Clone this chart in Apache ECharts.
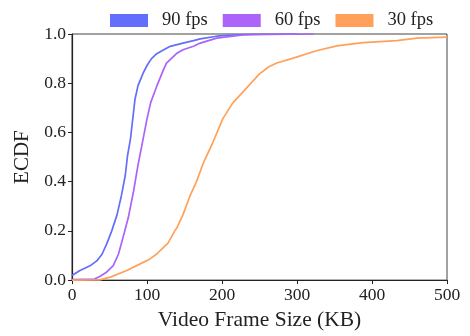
<!DOCTYPE html>
<html>
<head>
<meta charset="utf-8">
<script src="https://cdn.jsdelivr.net/npm/echarts@6/dist/echarts.min.js"></script>
<style>html,body{margin:0;padding:0;background:#fff}#c{width:470px;height:336px}</style>
</head>
<body>
<div id="c"></div>
<script>
const seriesNames = ['90 fps', '60 fps', '30 fps'];
const seriesColors = ['#636efa', '#ab63fa', '#ffa15a'];
const xTicks = [0, 100, 200, 300, 400, 500];
const yTicks = [0, 0.2, 0.4, 0.6, 0.8, 1.0];

const fps90X = [0,10,24,33,40,46,53,60,66,71,74,78,81,84,88,95,100,106,113,126,131,148,162,171,193,215,240,300];
const fps90Y = [0.019,0.038,0.058,0.078,0.105,0.145,0.2,0.265,0.345,0.425,0.505,0.575,0.655,0.735,0.79,0.842,0.872,0.9,0.92,0.942,0.95,0.963,0.973,0.98,0.991,0.996,0.999,1.0];

const fps60X = [0,30,37,46,55,62,68,75,82,88,94,100,105,113,122,126,140,148,162,171,193,228,260,322];
const fps60Y = [0.002,0.004,0.015,0.032,0.059,0.106,0.173,0.253,0.36,0.467,0.561,0.655,0.722,0.788,0.855,0.882,0.922,0.936,0.95,0.963,0.983,0.996,0.998,1.0];

const fps30X = [0,37,51,73,95,104,113,122,128,137,140,148,157,166,175,188,201,214,235,250,262,273,295,326,353,388,433,460,500];
const fps30Y = [0,0.001,0.012,0.039,0.072,0.086,0.106,0.133,0.15,0.2,0.213,0.266,0.34,0.4,0.475,0.561,0.655,0.718,0.788,0.838,0.866,0.882,0.902,0.932,0.952,0.965,0.973,0.983,0.987];

const xs = [fps90X, fps60X, fps30X];
const ys = [fps90Y, fps60Y, fps30Y];
const FONT = 'Liberation Serif';

const chart = echarts.init(document.getElementById('c'), null, {renderer: 'canvas'});
chart.setOption({
  animation: false,
  backgroundColor: '#fff',
  textStyle: {fontFamily: FONT},
  legend: {
    left: 105, top: 6,
    itemWidth: 38, itemHeight: 13, itemGap: 15,
    icon: 'rect',
    data: seriesNames,
    textStyle: {fontFamily: FONT, fontSize: 18.5, color: '#222', padding: [0, 0, 0, 9]}
  },
  grid: {left: 72, right: 23, top: 34, bottom: 53, show: true, borderColor: '#444', borderWidth: 1, containLabel: false},
  xAxis: {
    type: 'value', min: xTicks[0], max: xTicks[xTicks.length-1], interval: 100,
    name: 'Video Frame Size (KB)', nameLocation: 'middle', nameGap: 28,
    nameTextStyle: {fontFamily: FONT, fontSize: 21.5, color: '#222'},
    axisLine: {show: true, lineStyle: {color: '#222', width: 1.2}},
    axisTick: {show: true, inside: false, length: 4, lineStyle: {color: '#222'}},
    axisLabel: {fontFamily: FONT, fontSize: 17.5, color: '#222', margin: 6},
    splitLine: {show: false}
  },
  yAxis: {
    type: 'value', min: yTicks[0], max: yTicks[yTicks.length-1], interval: 0.2,
    name: 'ECDF', nameLocation: 'middle', nameGap: 38, nameRotate: 90,
    nameTextStyle: {fontFamily: FONT, fontSize: 21, color: '#222'},
    axisLine: {show: true, lineStyle: {color: '#222', width: 1.2}},
    axisTick: {show: true, inside: false, length: 4, lineStyle: {color: '#222'}},
    axisLabel: {fontFamily: FONT, fontSize: 17.5, color: '#222', margin: 6, formatter: v => v.toFixed(1)},
    splitLine: {show: false}
  },
  series: seriesNames.map((n, i) => ({
    name: n, type: 'line', showSymbol: false, symbol: 'none', clip: true,
    color: seriesColors[i],
    lineStyle: {width: 1.7, color: seriesColors[i]},
    data: xs[i].map((x, k) => [x, ys[i][k]])
  }))
});
</script>
</body>
</html>
